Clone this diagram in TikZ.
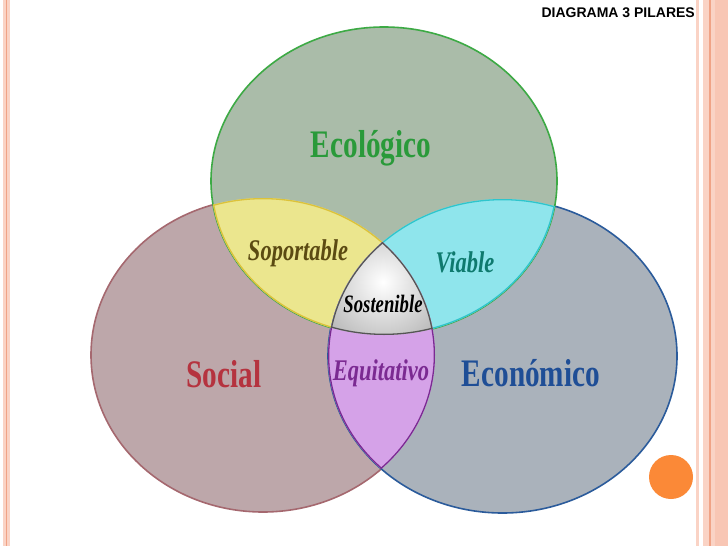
\documentclass[tikz,border=0pt]{standalone}
\usepackage{fontspec}
\usepackage{xcolor}
\usepackage{tikz}
\usetikzlibrary{positioning}
\newfontfamily\pilarfont[FakeStretch=0.75]{Liberation Serif}
\newfontfamily\titlefont{Liberation Sans}
\definecolor{ecofill}{HTML}{AABCA9}
\definecolor{ecoline}{HTML}{3DAA45}
\definecolor{ecotext}{HTML}{2A9A3A}
\definecolor{socfill}{HTML}{BDA7AA}
\definecolor{socline}{HTML}{A5686F}
\definecolor{soctext}{HTML}{B5333F}
\definecolor{econfill}{HTML}{AAB2BB}
\definecolor{econline}{HTML}{2B5B9B}
\definecolor{econtext}{HTML}{1F4E96}
\definecolor{amafill}{HTML}{EBE68E}
\definecolor{amaline}{HTML}{DCC23A}
\definecolor{amatext}{HTML}{5B4A12}
\definecolor{cianfill}{HTML}{8FE5EC}
\definecolor{cianline}{HTML}{2FC5CC}
\definecolor{ciantext}{HTML}{0E7A6E}
\definecolor{magfill}{HTML}{D5A2E8}
\definecolor{magline}{HTML}{7B2A92}
\definecolor{grisline}{HTML}{555555}
\definecolor{bordepale}{HTML}{FAD3C5}
\definecolor{bordemed}{HTML}{F8C6B4}
\definecolor{bordeosc}{HTML}{F0A386}
\definecolor{naranja}{HTML}{FB8937}
\newcommand\ecopath{(384,181) ellipse [x radius=173, y radius=154]}
\newcommand\socpath{(263,355) ellipse [x radius=172, y radius=157]}
\newcommand\econpath{(502.5,356) ellipse [x radius=174.5, y radius=157]}

\begin{document}
\begin{tikzpicture}[x=1pt, y=-1pt,
    pilar/.style={font=\pilarfont\bfseries\fontsize{39}{39}\selectfont, anchor=base, inner sep=0pt},
    cruce/.style={font=\pilarfont\bfseries\itshape\fontsize{30}{30}\selectfont, anchor=base, inner sep=0pt},
    borde/.style={line width=1.6pt},
    bordein/.style={line width=2.6pt}
  ]
    \useasboundingbox (0,0) rectangle (728,546);
    \fill[white] (0,0) rectangle (728,546);
    \fill[bordepale] (3,0) rectangle (10,546);
    \fill[bordeosc] (5.5,0) rectangle (7,546);
    \fill[bordepale] (696,0) rectangle (699,546);
    \fill[bordepale] (703,0) rectangle (728,546);
    \fill[bordemed] (715,0) rectangle (728,546);
    \fill[bordeosc] (709,0) rectangle (710.5,546);

    \filldraw[socfill, draw=socline, borde] \socpath;
    \filldraw[econfill, draw=econline, borde] \econpath;
    \filldraw[ecofill, draw=ecoline, borde] \ecopath;

    \begin{scope}
      \clip \ecopath; \clip \socpath;
      \fill[amafill] \socpath;
      \draw[amaline, bordein] \socpath;
      \draw[amaline, bordein] \ecopath;
    \end{scope}
    \begin{scope}
      \clip \ecopath; \clip \econpath;
      \fill[cianfill] \econpath;
      \draw[cianline, bordein] \econpath;
      \draw[cianline, bordein] \ecopath;
    \end{scope}
    \begin{scope}
      \clip \socpath; \clip \econpath;
      \fill[magfill] \econpath;
      \draw[magline, bordein] \econpath;
      \draw[magline, bordein] \socpath;
    \end{scope}
    \begin{scope}
      \clip \ecopath; \clip \socpath; \clip \econpath;
      \shade[inner color=white, outer color=black!38] (383,282) circle (95);
      \draw[grisline, bordein] \ecopath;
      \draw[grisline, bordein] \socpath;
      \draw[grisline, bordein] \econpath;
    \end{scope}

    \node[pilar, text=ecotext] (eco) at (371,157) {Ecológico};
    \node[pilar, text=soctext] (soc) at (224,387) {Social};
    \node[pilar, text=econtext] (econ) at (531,386) {Económico};
    \node[cruce, text=amatext] (soport) at (298,260) {Soportable};
    \node[cruce, text=ciantext] (viable) at (465,272) {Viable};
    \node[cruce, text=black, font=\pilarfont\bfseries\itshape\fontsize{25}{25}\selectfont] (sosten) at (383,312) {Sostenible};
    \node[cruce, text=magline] (equit) at (381,380) {Equitativo};

    \node[font=\titlefont\bfseries\fontsize{14}{14}\selectfont, anchor=base east, inner sep=0pt] (titulo) at (695,17) {DIAGRAMA 3 PILARES};
    \fill[naranja] (671,477) circle (22);
  \end{tikzpicture}
\end{document}
